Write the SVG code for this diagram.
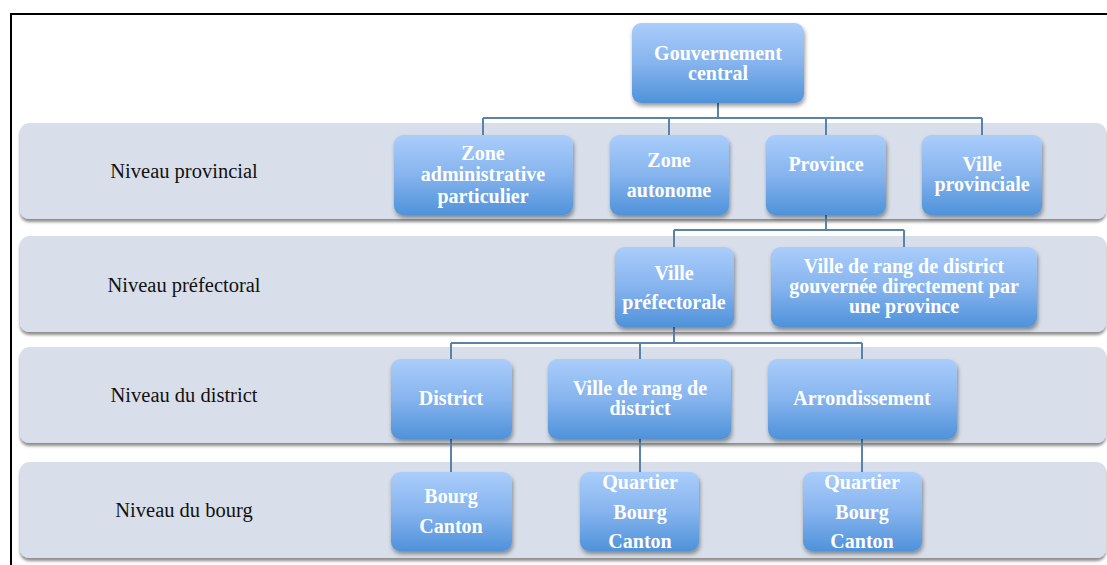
<svg xmlns="http://www.w3.org/2000/svg" width="1107" height="565" viewBox="0 0 1107 565">
<defs>
<linearGradient id="g" x1="0" y1="0" x2="0" y2="1">
<stop offset="0" stop-color="#aacdfb"/>
<stop offset="0.5" stop-color="#86b4ee"/>
<stop offset="1" stop-color="#4f92da"/>
</linearGradient>
<filter id="sh" x="-10%" y="-10%" width="120%" height="130%">
<feGaussianBlur in="SourceAlpha" stdDeviation="2"/>
<feOffset dx="1" dy="3"/>
<feComponentTransfer><feFuncA type="linear" slope="0.4"/></feComponentTransfer>
<feMerge><feMergeNode/><feMergeNode in="SourceGraphic"/></feMerge>
</filter>
<filter id="bsh" x="-2%" y="-10%" width="104%" height="130%">
<feGaussianBlur in="SourceAlpha" stdDeviation="1.5"/>
<feOffset dx="0" dy="3"/>
<feComponentTransfer><feFuncA type="linear" slope="0.45"/></feComponentTransfer>
<feMerge><feMergeNode/><feMergeNode in="SourceGraphic"/></feMerge>
</filter>
</defs>
<style>
.band{fill:#d9dfea;filter:url(#bsh)}
.lbl{font-family:"Liberation Serif","Times New Roman",serif;font-size:20.5px;fill:#111;text-anchor:middle}
.box{fill:url(#g);filter:url(#sh)}
.t{font-family:"Liberation Serif","Times New Roman",serif;font-size:20px;font-weight:bold;fill:#fff;text-anchor:middle}
.c{fill:none;stroke:#5a83ab;stroke-width:2}
</style>
<rect x="0" y="0" width="1107" height="565" fill="#fff"/>
<rect x="11" y="14" width="1110" height="570" fill="none" stroke="#000" stroke-width="2"/>

<g id="bands">
<rect class="band" x="20" y="123" width="1086" height="96" rx="9"/>
<rect class="band" x="20" y="236" width="1086" height="96" rx="9"/>
<rect class="band" x="20" y="347" width="1086" height="96" rx="9"/>
<rect class="band" x="20" y="462" width="1086" height="96" rx="9"/>
</g>

<g id="labels">
<text class="lbl" x="184" y="178">Niveau provincial</text>
<text class="lbl" x="184" y="292">Niveau préfectoral</text>
<text class="lbl" x="184" y="402">Niveau du district</text>
<text class="lbl" x="184" y="517">Niveau du bourg</text>
</g>

<g id="connectors">
<path class="c" d="M718 103 V118 M483 118 H982 M483 118 V135 M669 118 V135 M826 118 V135 M982 118 V135"/>
<path class="c" d="M826 215 V230 M674 230 H904 M674 230 V247 M904 230 V247"/>
<path class="c" d="M674 327 V343 M451 343 H862 M451 343 V359 M640 343 V359 M862 343 V359"/>
<path class="c" d="M451 439 V472 M640 439 V472 M862 439 V472"/>
</g>

<g id="n-gouv">
<rect class="box" x="632" y="23" width="172" height="80" rx="9"/>
<text class="t" x="718" y="60">Gouvernement</text>
<text class="t" x="718" y="80">central</text>
</g>

<g id="n-zap">
<rect class="box" x="394" y="135" width="179" height="80" rx="9"/>
<text class="t" x="483" y="160">Zone</text>
<text class="t" x="483" y="181">administrative</text>
<text class="t" x="483" y="203">particulier</text>
</g>

<g id="n-za">
<rect class="box" x="610" y="135" width="119" height="80" rx="9"/>
<text class="t" x="669" y="167">Zone</text>
<text class="t" x="669" y="197">autonome</text>
</g>

<g id="n-prov">
<rect class="box" x="766" y="135" width="120" height="80" rx="9"/>
<text class="t" x="826" y="171">Province</text>
</g>

<g id="n-vprov">
<rect class="box" x="922" y="135" width="120" height="80" rx="9"/>
<text class="t" x="982" y="171">Ville</text>
<text class="t" x="982" y="191">provinciale</text>
</g>

<g id="n-vpref">
<rect class="box" x="615" y="247" width="119" height="80" rx="9"/>
<text class="t" x="674" y="280">Ville</text>
<text class="t" x="674" y="309">préfectorale</text>
</g>

<g id="n-vrdg">
<rect class="box" x="771" y="247" width="266" height="80" rx="9"/>
<text class="t" x="904" y="273">Ville de rang de district</text>
<text class="t" x="904" y="293">gouvernée directement par</text>
<text class="t" x="904" y="313">une province</text>
</g>

<g id="n-district">
<rect class="box" x="391" y="359" width="121" height="80" rx="9"/>
<text class="t" x="451" y="405">District</text>
</g>

<g id="n-vrd">
<rect class="box" x="548" y="359" width="183" height="80" rx="9"/>
<text class="t" x="640" y="395">Ville de rang de</text>
<text class="t" x="640" y="415">district</text>
</g>

<g id="n-arr">
<rect class="box" x="768" y="359" width="189" height="80" rx="9"/>
<text class="t" x="862" y="405">Arrondissement</text>
</g>

<g id="n-bc1">
<rect class="box" x="391" y="472" width="121" height="79" rx="9"/>
<text class="t" x="451" y="503">Bourg</text>
<text class="t" x="451" y="533">Canton</text>
</g>

<g id="n-qbc2">
<rect class="box" x="580" y="472" width="119" height="79" rx="9"/>
<text class="t" x="640" y="489">Quartier</text>
<text class="t" x="640" y="519">Bourg</text>
<text class="t" x="640" y="548">Canton</text>
</g>

<g id="n-qbc3">
<rect class="box" x="803" y="472" width="119" height="79" rx="9"/>
<text class="t" x="862" y="489">Quartier</text>
<text class="t" x="862" y="519">Bourg</text>
<text class="t" x="862" y="548">Canton</text>
</g>
</svg>
